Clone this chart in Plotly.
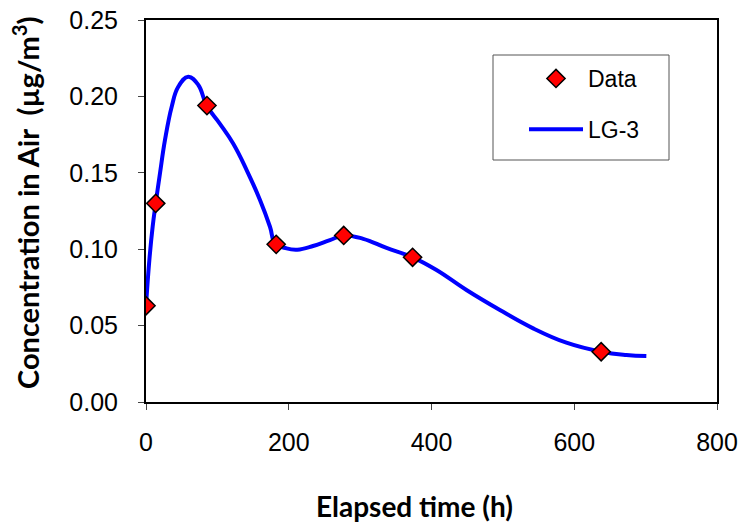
import plotly.graph_objects as go

# Measured data
data_time = [0, 13.6, 85.4, 182.4, 277, 373.5, 637.7]
data_conc = [0.063, 0.130, 0.194, 0.1032, 0.109, 0.0947, 0.0329]

# LG-3 model curve
lg3_time = [0, 4.7, 9.3, 13.6, 19.6, 26.6, 36, 45.2, 59.2, 73.3, 85, 103.6, 122.3,
            141, 159.7, 173.7, 181, 197, 212, 234, 257.7, 277.3, 304.3, 337, 373.5,
            407, 449, 495.8, 542.4, 589, 638, 673, 701]
lg3_conc = [0.063, 0.0929, 0.1147, 0.130, 0.1497, 0.1715, 0.1933, 0.2063, 0.2129,
            0.2075, 0.194, 0.1820, 0.1690, 0.1518, 0.1322, 0.1147, 0.1038, 0.1005,
            0.0997, 0.1021, 0.106, 0.1090, 0.1068, 0.1008, 0.0947, 0.0864, 0.0733,
            0.0602, 0.0482, 0.0388, 0.0329, 0.0308, 0.0301]

x_ticks = [0, 200, 400, 600, 800]
y_ticks = [0.00, 0.05, 0.10, 0.15, 0.20, 0.25]

fig = go.Figure()
fig.add_trace(go.Scatter(
    x=lg3_time, y=lg3_conc, mode="lines", name="LG-3",
    line=dict(color="#0000FF", width=4, shape="spline", smoothing=1.2),
    legendgroup="b", legendrank=2,
))
fig.add_trace(go.Scatter(
    x=data_time, y=data_conc, mode="markers", name="Data",
    marker=dict(symbol="diamond", size=14, color="#FF0000",
                line=dict(color="black", width=1.5)),
    legendgroup="a", legendrank=1,
))

fig.update_layout(
    width=740, height=522,
    margin=dict(l=146, r=23, t=20, b=120),
    paper_bgcolor="white", plot_bgcolor="white",
    font=dict(family="Liberation Sans, Arial", size=22, color="black"),
    showlegend=True,
    legend=dict(
        x=(524 - 146) / 571, y=(402 - 57) / 382, xanchor="left", yanchor="top",
        bgcolor="rgba(0,0,0,0)", borderwidth=0,
        font=dict(family="Liberation Sans, Arial", size=23),
        traceorder="grouped", tracegroupgap=18, itemwidth=54,
    ),
    xaxis=dict(
        range=[0, 800], tickvals=x_ticks, ticktext=[str(v) for v in x_ticks],
        showgrid=False, zeroline=False, automargin=False,
        showline=True, linecolor="black", linewidth=2, mirror=True,
        ticks="outside", ticklen=6, tickcolor="#444", tickwidth=1,
        tickfont=dict(size=25), ticklabelstandoff=11,
    ),
    yaxis=dict(
        range=[0, 0.25], tickvals=y_ticks, ticktext=[f"{v:.2f}" for v in y_ticks],
        showgrid=False, zeroline=False, automargin=False,
        showline=True, linecolor="black", linewidth=2, mirror=True,
        ticks="outside", ticklen=6, tickcolor="#444", tickwidth=1,
        tickfont=dict(size=25), ticklabelstandoff=15,
    ),
    shapes=[dict(type="rect", xref="paper", yref="paper",
                 x0=(493 - 146) / 571, x1=(669 - 146) / 571,
                 y0=(402 - 160) / 382, y1=(402 - 55) / 382,
                 line=dict(color="#555", width=1), fillcolor="rgba(0,0,0,0)")],
    annotations=[
        dict(text="<b>Elapsed time (h)</b>", xref="paper", yref="paper",
             x=(414 - 146) / 571, y=(402 - 506) / 382, showarrow=False,
             xanchor="center", yanchor="middle",
             font=dict(family="Lato, Open Sans", size=28)),
        dict(text="<b>Concentration in Air  (µg/m<sup>3</sup>)</b>", xref="paper", yref="paper",
             x=(26 - 146) / 571, y=(402 - 203) / 382, showarrow=False, textangle=-90,
             xanchor="center", yanchor="middle",
             font=dict(family="Lato, Open Sans", size=29)),
    ],
)

fig.write_html("out.html", config={"displayModeBar": False},
               post_script="document.body.style.margin='0';document.body.style.padding='0';")
